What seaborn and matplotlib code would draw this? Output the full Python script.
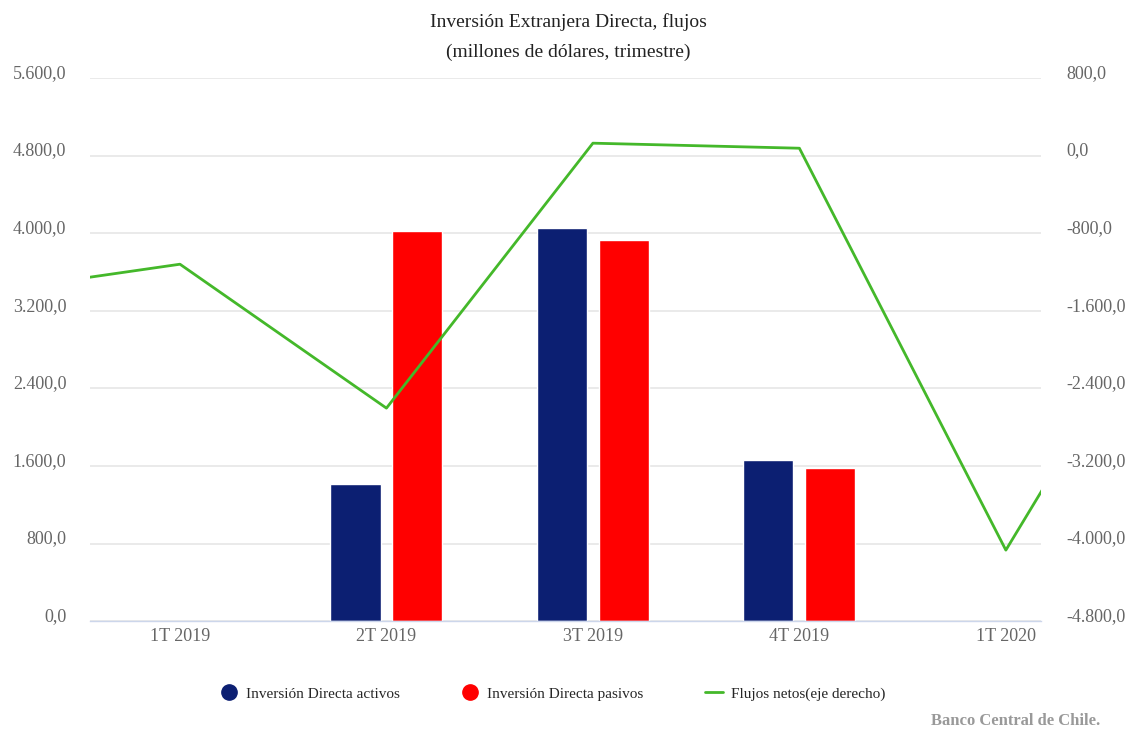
import matplotlib.pyplot as plt
from matplotlib.lines import Line2D
from matplotlib.ticker import FuncFormatter, MultipleLocator
import numpy as np
import pandas as pd
import seaborn as sns

# categories on the x axis
quarters = ["1T 2019", "2T 2019", "3T 2019", "4T 2019", "1T 2020"]

# bars (left axis)
bar_quarters = ["2T 2019", "3T 2019", "4T 2019"]
activos = [1412, 4052, 1660]
pasivos = [4021, 3928, 1577]

# net flows (right axis), the line runs past both ends of the window
line_quarters = ["4T 2018", "1T 2019", "2T 2019", "3T 2019", "4T 2019", "1T 2020", "2T 2020"]
flujos_netos = [-1427, -1120, -2604, 128, 76, -4068, -550]

navy = "#0c1f72"
red = "#ff0000"
green = "#44b82a"
grey = "#666666"

sns.set_theme(style="white")
plt.rcParams["font.family"] = ["Liberation Serif", "DejaVu Serif"]

df = pd.DataFrame({
    "trimestre": bar_quarters * 2,
    "valor": activos + pasivos,
    "serie": ["Inversión Directa activos"] * len(activos) + ["Inversión Directa pasivos"] * len(pasivos),
})

fig = plt.figure(figsize=(11.3, 7.29), dpi=100)
ax = fig.add_axes([0.0796, 0.148, 0.9212 - 0.0796, 0.893 - 0.148])

sns.barplot(data=df, x="trimestre", y="valor", hue="serie", order=quarters,
            palette=[navy, red], saturation=1, width=0.6, gap=0.19,
            legend=False, ax=ax)

ax2 = ax.twinx()
pos = {q: i - 1 for i, q in enumerate(line_quarters)}
sns.lineplot(x=[pos[q] for q in line_quarters], y=flujos_netos, color=green,
             lw=2, ax=ax2)

ax.set_xlim(-0.436, 4.17)
ax.set_ylim(0, 5600)
ax2.set_ylim(-4800, 800)

fmt = FuncFormatter(lambda v, p: f"{v:,.1f}".replace(",", "X").replace(".", ",").replace("X", "."))
for a in (ax, ax2):
    a.yaxis.set_major_locator(MultipleLocator(800))
    a.yaxis.set_major_formatter(fmt)
    a.set_xlabel("")
    a.set_ylabel("")
    for s in a.spines.values():
        s.set_visible(False)

ax.set_xticks(range(len(quarters)))
ax.set_xticklabels(quarters)
ax.spines["bottom"].set_visible(True)
ax.spines["bottom"].set_color("#ccd6eb")
ax.spines["bottom"].set_linewidth(1)

ax.yaxis.grid(True, color="#e6e6e6", lw=1.2)
ax.set_axisbelow(True)

ax.tick_params(axis="x", colors="#ccd6eb", length=7, width=1, direction="out",
               pad=-2, labelcolor=grey, labelsize=13)
ax.tick_params(axis="y", length=0, pad=17, labelcolor=grey, labelsize=13)
ax2.tick_params(axis="y", length=0, pad=18, labelcolor=grey, labelsize=13)
for lbl in ax.get_yticklabels() + ax2.get_yticklabels():
    lbl.set_verticalalignment("baseline")

fig.text(0.503, 1 - 22 / 729, "Inversión Extranjera Directa, flujos",
         ha="center", va="center", fontsize=14, color="#222222")
fig.text(0.503, 1 - 52 / 729, "(millones de dólares, trimestre)",
         ha="center", va="center", fontsize=14, color="#222222")

handles = [
    Line2D([], [], ls="none", marker="o", markersize=11, color=navy),
    Line2D([], [], ls="none", marker="o", markersize=11, color=red),
    Line2D([], [], color=green, lw=2),
]
labels = ["Inversión Directa activos", "Inversión Directa pasivos", "Flujos netos(eje derecho)"]
fig.legend(handles, labels, loc="center", bbox_to_anchor=(0.489, 1 - 694 / 729),
           ncol=3, frameon=False, fontsize=11, handlelength=1.2,
           handletextpad=0.5, columnspacing=4.0)

fig.text(1 - 30 / 1130, 1 - 721 / 729, "Banco Central de Chile.", ha="right",
         va="center", fontsize=12, fontweight="bold", color="#999999")

fig.savefig("out.png", dpi=100)
